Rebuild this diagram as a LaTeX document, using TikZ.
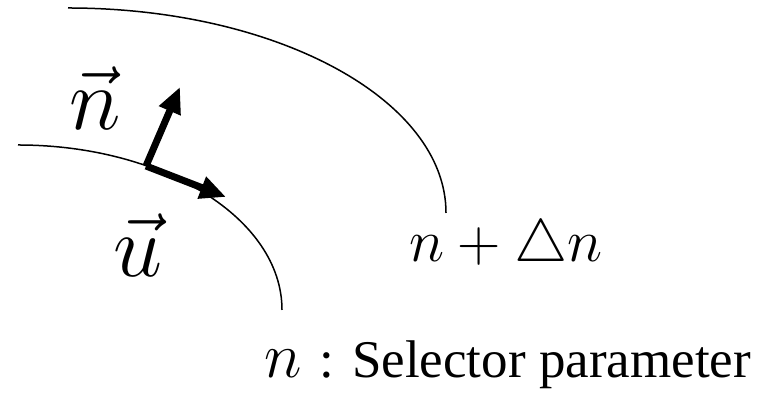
\RequirePackage{fix-cm}
\documentclass[tikz,border=0pt]{standalone}
\usepackage{fontspec}
\newfontfamily\timesfont{Liberation Serif}
\usetikzlibrary{arrows.meta}

\begin{document}
\begin{tikzpicture}[
    x=0.5pt, y=0.5pt,
    every node/.style={inner sep=0pt, anchor=base},
    level/.style={line width=0.75pt},
    vecarrow/.style={-{Triangle[length=13pt,width=11pt]}, line width=3.5pt},
    biglabel/.style={font=\fontsize{44}{50}\selectfont}
]
\useasboundingbox (0,0) rectangle (763,394);

% --- Level curves ---
\draw[level] (18,249) arc[start angle=90, end angle=0, x radius=132pt, y radius=82.5pt];
\draw[level] (68,386) arc[start angle=90, end angle=0, x radius=189pt, y radius=102.5pt];

% --- Vectors ---
\coordinate (base) at (146,228);
\coordinate (ntip) at (180,307);
\coordinate (utip) at (226,197);
\draw[vecarrow] (base) -- (ntip);
\draw[vecarrow] (base) -- (utip);

% --- Labels ---
\node[biglabel] (nvec) at (95,264) {$\vec{n}$};
\node[biglabel] (uvec) at (138,117) {$\vec{u}$};
\node[font=\fontsize{30}{36}\selectfont] (outer) at (506,132) {$n+\triangle n$};
\node[anchor=base west] (param) at (264,16)
    {{\fontsize{32}{38}\selectfont$n$}\hspace{9pt}{\timesfont\fontsize{26.5}{31}\selectfont: Selector parameter}};

\end{tikzpicture}
\end{document}
